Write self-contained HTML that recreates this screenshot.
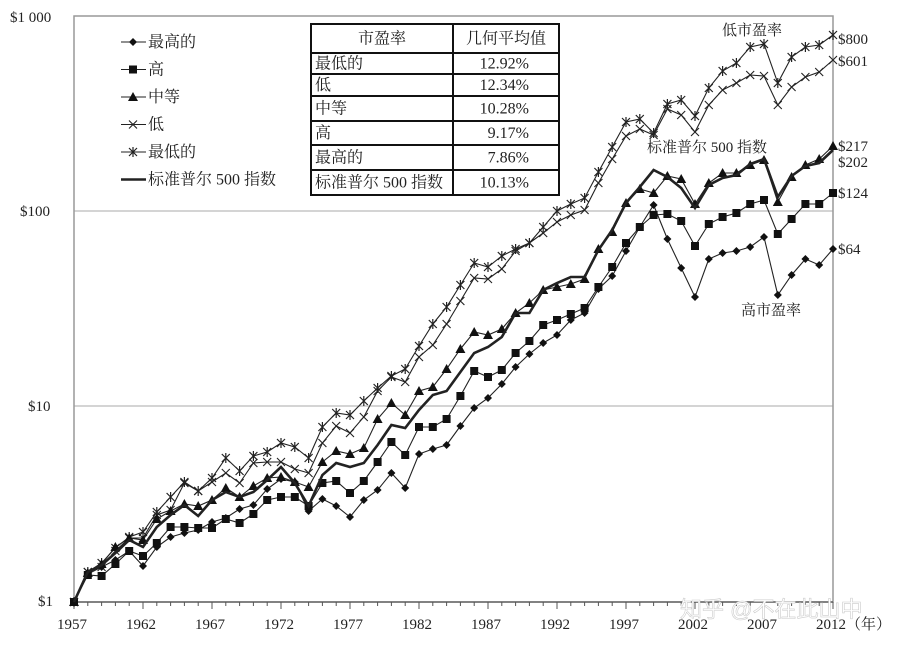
<!DOCTYPE html>
<html><head><meta charset="utf-8">
<style>
html,body{margin:0;padding:0;background:#fff;}
svg{display:block;font-family:"Liberation Serif","Noto Serif CJK SC","Noto Sans CJK SC",serif;}
</style></head>
<body>
<svg id="c" width="898" height="645" viewBox="0 0 898 645" xmlns="http://www.w3.org/2000/svg">
<rect width="898" height="645" fill="#fff"/>
<line x1="74" y1="211" x2="833" y2="211" stroke="#bbb" stroke-width="1.2"/>
<line x1="74" y1="406" x2="833" y2="406" stroke="#bbb" stroke-width="1.2"/>
<rect x="74" y="16" width="759" height="586" fill="none" stroke="#999" stroke-width="1.5"/>
<line x1="74" y1="602" x2="833" y2="602" stroke="#555" stroke-width="1.2"/>
<g id="ticks" stroke="#555" stroke-width="1"></g>
<g font-size="15" fill="#222">
<text x="10" y="22">$1 000</text>
<text x="20" y="216">$100</text>
<text x="28" y="411">$10</text>
<text x="38" y="606">$1</text>
<text x="57" y="629">1957</text>
<text x="126" y="629">1962</text>
<text x="195" y="629">1967</text>
<text x="264" y="629">1972</text>
<text x="333" y="629">1977</text>
<text x="402" y="629">1982</text>
<text x="471" y="629">1987</text>
<text x="540" y="629">1992</text>
<text x="609" y="629">1997</text>
<text x="678" y="629">2002</text>
<text x="747" y="629">2007</text>
<text x="816" y="629">2012（年）</text>
<text x="838" y="44">$800</text>
<text x="838" y="66">$601</text>
<text x="838" y="151">$217</text>
<text x="838" y="167">$202</text>
<text x="838" y="198">$124</text>
<text x="838" y="254">$64</text>
<text x="722" y="35">低市盈率</text>
<text x="647" y="152">标准普尔 500 指数</text>
<text x="741" y="315">高市盈率</text>
</g>
<text x="680" y="617" font-size="22" fill="#fff" stroke="#ccc" stroke-width="0.6" font-family="Liberation Sans,Noto Sans CJK SC,sans-serif">知乎 @不在此山中</text>
<g id="series"></g>
<g id="legend" font-size="16" fill="#222"></g>
<g id="table" font-size="16" fill="#222"></g>
</svg>
<script>
var NS="http://www.w3.org/2000/svg";
function el(t,a,p){var e=document.createElementNS(NS,t);for(var k in a)e.setAttribute(k,a[k]);(p||document.getElementById('series')).appendChild(e);return e;}
var tk=document.getElementById('ticks');
for(var i=0;i<=55;i++){var x=74+13.8*i;el('line',{x1:x,y1:602,x2:x,y2:(i%5==0?609:606)},tk);}
function X(i){return 74+13.8*i;}
var data={
star:[602,572,563,548,537,532,512,497,482,491,478,458,471,456,452,443,447,458,427,413,415,401,388,376,369,346,324,307,285,263,267,256,249,243,227,211,204,198,172,147,122,119,133,104,100,116,88,71,63,47,44,83,57,47,45,35],
cross:[602,572,567,551,538,538,515,510,483,491,482,473,483,463,462,462,469,473,443,426,433,417,391,377,382,357,345,324,301,278,279,269,251,243,233,222,215,210,183,159,136,129,135,109,115,132,105,90,83,75,76,105,87,77,72,60],
tri:[602,573,564,547,538,540,519,511,504,506,500,488,497,486,478,477,482,487,462,451,454,448,419,403,415,391,387,369,349,332,335,329,313,303,290,287,284,279,249,232,203,189,193,176,179,204,183,173,173,165,160,202,177,165,159,146],
sp:[602,572,565,553,540,547,527,515,505,516,500,492,497,492,480,467,483,506,475,463,467,463,445,425,428,410,395,391,372,353,347,337,313,313,290,283,277,277,250,230,203,187,170,177,188,208,185,178,175,164,159,197,176,166,163,150],
sq:[602,575,576,564,551,556,543,527,527,528,528,519,523,514,500,497,497,506,483,481,493,481,462,442,455,427,427,419,396,371,377,370,353,341,325,320,314,308,287,267,243,227,215,214,221,246,224,217,213,204,200,234,219,204,204,193],
dia:[602,574,567,560,551,566,547,537,533,530,522,518,509,505,489,479,482,511,499,506,517,500,490,473,488,454,449,445,426,408,398,384,367,354,343,335,320,313,289,276,251,227,205,239,268,297,259,253,251,247,237,295,275,259,265,249]
};
function pts(a){return a.map(function(y,i){return X(i)+','+y}).join(' ');}
function marker(type,x,y,g){
 if(type=='dia')el('polygon',{points:(x)+','+(y-4)+' '+(x+4)+','+y+' '+x+','+(y+4)+' '+(x-4)+','+y,fill:'#111'},g);
 else if(type=='sq')el('rect',{x:x-4,y:y-4,width:8,height:8,fill:'#111'},g);
 else if(type=='tri')el('polygon',{points:x+','+(y-5)+' '+(x+5)+','+(y+4)+' '+(x-5)+','+(y+4),fill:'#111'},g);
 else if(type=='cross'){el('path',{d:'M'+(x-4)+' '+(y-4)+'L'+(x+4)+' '+(y+4)+'M'+(x+4)+' '+(y-4)+'L'+(x-4)+' '+(y+4),stroke:'#222','stroke-width':1.1},g);}
 else if(type=='star'){el('path',{d:'M'+(x-4)+' '+(y-4)+'L'+(x+4)+' '+(y+4)+'M'+(x+4)+' '+(y-4)+'L'+(x-4)+' '+(y+4)+'M'+x+' '+(y-5)+'L'+x+' '+(y+5),stroke:'#222','stroke-width':1.2},g);}
}
['star','cross','dia','sq','tri','sp'].forEach(function(k){
 var a=data[k];
 el('polyline',{points:pts(a),fill:'none',stroke:'#222','stroke-width':k=='sp'?2.6:1.1});
 if(k!='sp')a.forEach(function(y,i){marker(k,X(i),y);});
});
var lg=document.getElementById('legend');
var L=[['dia','最高的'],['sq','高'],['tri','中等'],['cross','低'],['star','最低的'],['sp','标准普尔 500 指数']];
L.forEach(function(r,i){var y=42+27.5*i;
 el('line',{x1:121,y1:y,x2:146,y2:y,stroke:'#222','stroke-width':r[0]=='sp'?2.6:1.1},lg);
 if(r[0]!='sp')marker(r[0],133,y,lg);
 var t=el('text',{x:148,y:y+5},lg);t.textContent=r[1];});
var tb=document.getElementById('table');
el('rect',{x:311,y:24,width:248,height:171,fill:'#fff',stroke:'#111','stroke-width':2},tb);
el('line',{x1:453,y1:24,x2:453,y2:195,stroke:'#111','stroke-width':2},tb);
var ys=[24,53,74,96,121,145,170,195];
for(var j=1;j<7;j++)el('line',{x1:311,y1:ys[j],x2:559,y2:ys[j],stroke:'#111','stroke-width':2},tb);
var rows=[['市盈率','几何平均值'],['最低的','12.92%'],['低','12.34%'],['中等','10.28%'],['高','9.17%'],['最高的','7.86%'],['标准普尔 500 指数','10.13%']];
rows.forEach(function(r,j){var cy=(ys[j]+ys[j+1])/2+5;
 var a=el('text',{x:j==0?382:315,y:cy,'text-anchor':j==0?'middle':'start'},tb);a.textContent=r[0];
 var b=el('text',{x:j==0?506:529,y:cy,'text-anchor':j==0?'middle':'end'},tb);b.textContent=r[1];});
</script>
</body></html>
